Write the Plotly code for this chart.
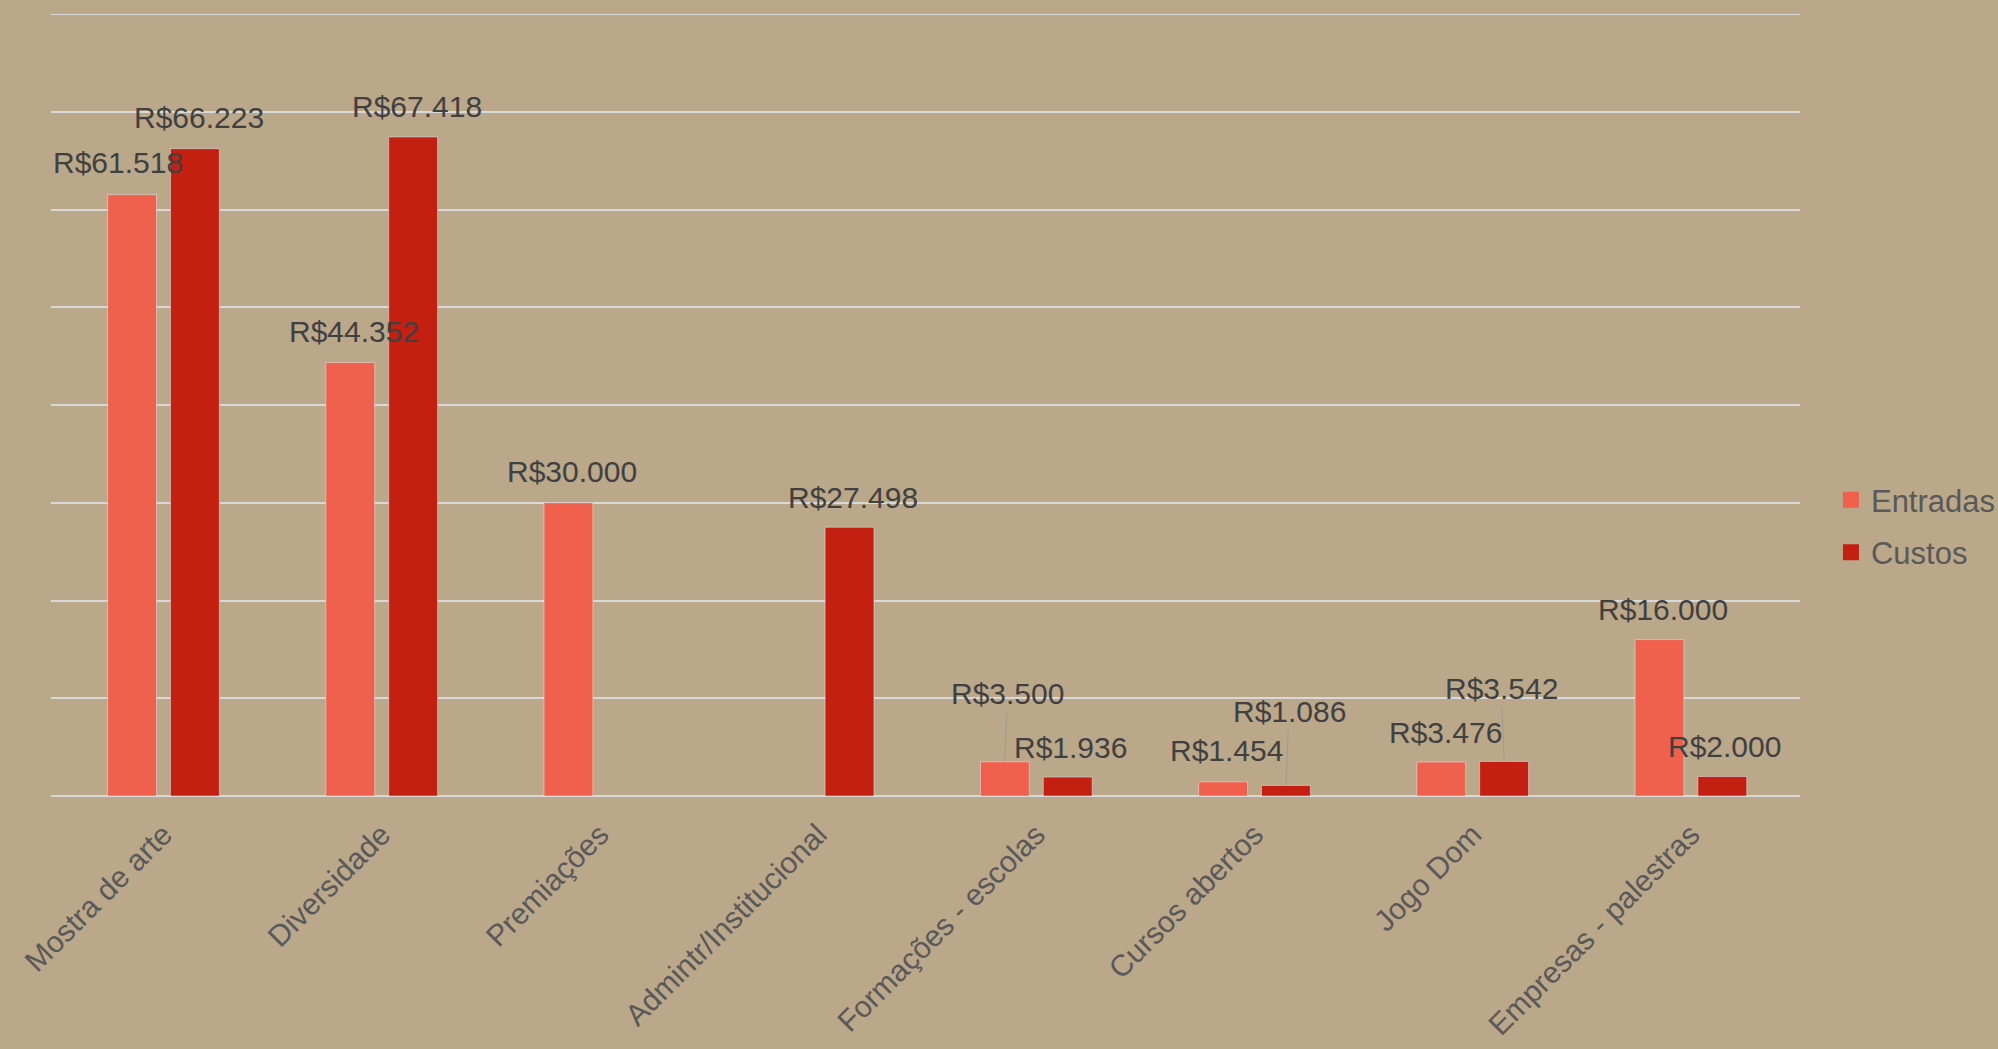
import plotly.graph_objects as go

categories = ["Mostra de arte", "Diversidade", "Premiações", "Admintr/Institucional",
              "Formações - escolas", "Cursos abertos", "Jogo Dom", "Empresas - palestras"]
entradas = [61518, 44352, 30000, None, 3500, 1454, 3476, 16000]
custos = [66223, 67418, None, 27498, 1936, 1086, 3542, 2000]
y_ticks = [0, 10000, 20000, 30000, 40000, 50000, 60000, 70000, 80000]

# label placement offsets (pixels): (dx, dy_up, leader_line)
ent_off = [(-14, 32, False), (4, 31, False), (4, 31, False), None,
           (3, 68, True), (3, 31, False), (4, 30, False), (4, 30, False)]
cus_off = [(4, 31, False), (4, 30, False), None, (3, 30, False),
           (3, 30, False), (3, 74, True), (-3, 73, True), (2, 30, False)]

BG = "#BBA78A"
C_ENT = "#EF614D"
C_CUS = "#C32012"
FONT = "Liberation Sans, Arial, sans-serif"
LBL = 30

def fmt(v):
    return "R$" + f"{v:,.0f}".replace(",", ".")

fig = go.Figure()
fig.add_trace(go.Bar(x=categories, y=entradas, name="Entradas", marker_color=C_ENT,
                     showlegend=False))
fig.add_trace(go.Bar(x=categories, y=custos, name="Custos", marker_color=C_CUS,
                     showlegend=False))
# legend entries with larger square swatches
for nm, col, grp in (("Entradas", C_ENT, "a"), ("Custos", C_CUS, "b")):
    fig.add_trace(go.Scatter(x=[None], y=[None], mode="markers", name=nm,
                             legendgroup=grp,
                             marker=dict(symbol="square", size=18, color=col)))

annotations = []
bar_shift = 31.5
for series, offs, sh in ((entradas, ent_off, -bar_shift), (custos, cus_off, bar_shift)):
    for cat, v, off in zip(categories, series, offs):
        if v is None or off is None:
            continue
        dx, dy, lead = off
        if lead:
            annotations.append(dict(x=cat, y=v, xref="x", yref="y", text=fmt(v),
                                    showarrow=True, arrowhead=0, arrowwidth=1,
                                    arrowcolor="#A09A90", ax=dx, ay=-dy, xshift=sh,
                                    standoff=0,
                                    font=dict(size=LBL, color="#404040", family=FONT)))
        else:
            annotations.append(dict(x=cat, y=v, xref="x", yref="y", text=fmt(v),
                                    showarrow=False, xshift=sh + dx, yshift=dy,
                                    font=dict(size=LBL, color="#404040", family=FONT)))

fig.update_layout(
    width=1998, height=1049,
    paper_bgcolor=BG, plot_bgcolor=BG,
    margin=dict(l=51, r=198, t=14, b=253, autoexpand=False),
    barmode="group", bargap=0.424, bargroupgap=0.222,
    font=dict(family=FONT, color="#595959"),
    showlegend=True,
    legend=dict(x=1.0177, y=0.345, xanchor="left", yanchor="middle",
                font=dict(size=31, color="#595959", family=FONT),
                traceorder="grouped", tracegroupgap=9,
                bgcolor="rgba(0,0,0,0)"),
    annotations=annotations,
)
fig.update_xaxes(tickangle=-45, tickfont=dict(size=30, color="#595959", family=FONT),
                 showgrid=False, showline=False, ticks="", automargin=False,
                 ticklabelstandoff=14)
fig.update_yaxes(range=[0, 80000], tickvals=y_ticks, showticklabels=False,
                 showgrid=True, gridcolor="#D9D9D9", gridwidth=2,
                 zeroline=True, zerolinecolor="#D9D9D9", zerolinewidth=2,
                 automargin=False)
# top gridline at the edge of the range
fig.add_hline(y=80000, line_color="#D9D9D9", line_width=2)

fig.write_html("out.html", config={"displayModeBar": False},
               post_script="document.body.style.margin='0';")
